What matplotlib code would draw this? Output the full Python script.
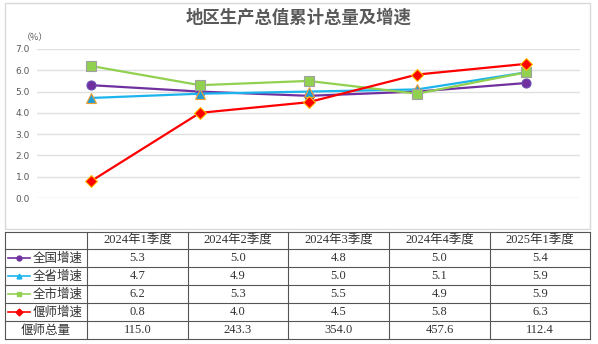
import matplotlib
matplotlib.use("Agg")
import matplotlib.pyplot as plt
from matplotlib.patches import Rectangle
from matplotlib.lines import Line2D

plt.rcParams['font.family'] = ['Noto Sans CJK SC', 'DejaVu Sans']

categories = ["2024年1季度", "2024年2季度", "2024年3季度", "2024年4季度", "2025年1季度"]
series_names = ["全国增速", "全省增速", "全市增速", "偃师增速"]
national = [5.3, 5.0, 4.8, 5.0, 5.4]
province = [4.7, 4.9, 5.0, 5.1, 5.9]
city = [6.2, 5.3, 5.5, 4.9, 5.9]
yanshi = [0.8, 4.0, 4.5, 5.8, 6.3]
total_name = "偃师总量"
total = [115.0, 243.3, 354.0, 457.6, 112.4]
yticks = [0, 1, 2, 3, 4, 5, 6, 7]

styles = [
    dict(color="#7030A0", marker="o", mfc="#7030A0", mec="#6a4fb0", ms=6.5),
    dict(color="#1CB4EC", marker="^", mfc="#1f9fd5", mec="#F0A030", ms=6.5),
    dict(color="#92D050", marker="s", mfc="#92D050", mec="#A0A0A0", ms=6.5),
    dict(color="#FF0000", marker="D", mfc="#FF0000", mec="#FFC000", ms=6),
]
series = [national, province, city, yanshi]

W, H = 598, 344
fig = plt.figure(figsize=(W / 100, H / 100), dpi=100)

def fx(px):
    return px / W

def fy(py):
    return 1 - py / H

# chart panel border
fig.patches.append(Rectangle((fx(5), fy(229)), fx(585), (229 - 3) / H,
                             transform=fig.transFigure, fill=False,
                             edgecolor="#D9D9D9", linewidth=1))

fig.text(fx(299), fy(18), "地区生产总值累计总量及增速", ha="center", va="center",
         fontsize=12.5, fontweight="bold", color="#595959")
fig.text(fx(22), fy(38), "（%）", ha="left", va="center", fontsize=6.5, color="#595959")

ax = fig.add_axes([fx(37), fy(198), fx(580 - 37), (198 - 49) / H])
x = list(range(len(categories)))
for vals, st in zip(series, styles):
    ax.plot(x, vals, color=st["color"], lw=1.6, marker=st["marker"],
            markerfacecolor=st["mfc"], markeredgecolor=st["mec"],
            markersize=st["ms"], markeredgewidth=0.8, clip_on=False, zorder=3)
ax.set_xlim(-0.5, len(categories) - 0.5)
ax.set_ylim(0, 7)
ax.set_yticks(yticks)
ax.set_yticklabels([f"{v:.1f}" for v in yticks], fontsize=6.5, color="#595959",
                   family=["DejaVu Sans"])
ax.set_xticks([])
ax.grid(axis="y", color="#E0E0E0", lw=1)
ax.tick_params(axis="y", length=0, pad=5)
for s in ax.spines.values():
    s.set_visible(False)
ax.set_axisbelow(True)

# table
tx0, tx1, ty0, ty1 = 5, 590, 232, 339
tab = fig.add_axes([fx(tx0), fy(ty1), fx(tx1 - tx0), (ty1 - ty0) / H])
tab.set_xlim(tx0, tx1)
tab.set_ylim(ty1, ty0)
tab.axis("off")
col_edges = [5, 87, 188, 288, 389, 490, 590]
row_edges = [232, 249.5, 267.5, 285.5, 303.5, 321.5, 339]
lc = "#555555"
for xe in col_edges:
    tab.plot([xe, xe], [row_edges[0], row_edges[-1]], color=lc, lw=0.8, clip_on=False)
for ye in row_edges:
    tab.plot([col_edges[0], col_edges[-1]], [ye, ye], color=lc, lw=0.8, clip_on=False)

num_font = ["Liberation Serif", "Noto Sans CJK SC"]
txt_col = "#333333"
for j, c in enumerate(categories):
    cx = (col_edges[j + 1] + col_edges[j + 2]) / 2
    cy = (row_edges[0] + row_edges[1]) / 2
    tab.text(cx, cy, c, ha="center", va="center", fontsize=9, family=num_font, color=txt_col)

rows = series + [total]
for i, vals in enumerate(rows):
    cy = (row_edges[i + 1] + row_edges[i + 2]) / 2
    for j, v in enumerate(vals):
        cx = (col_edges[j + 1] + col_edges[j + 2]) / 2
        tab.text(cx, cy, f"{v:.1f}", ha="center", va="center", fontsize=9,
                 family=num_font, color=txt_col)

for i, (name, st) in enumerate(zip(series_names, styles)):
    cy = (row_edges[i + 1] + row_edges[i + 2]) / 2
    tab.add_line(Line2D([8, 30], [cy, cy], color=st["color"], lw=1.2))
    tab.add_line(Line2D([19], [cy], marker=st["marker"], color=st["color"],
                        markerfacecolor=st["color"], markeredgecolor=st["color"], ms=3.5))
    tab.text(33, cy, name, ha="left", va="center", fontsize=9, color=txt_col)

cy = (row_edges[5] + row_edges[6]) / 2
tab.text((col_edges[0] + col_edges[1]) / 2, cy, total_name, ha="center", va="center",
         fontsize=9, color=txt_col)

fig.savefig("out.png", dpi=100)
